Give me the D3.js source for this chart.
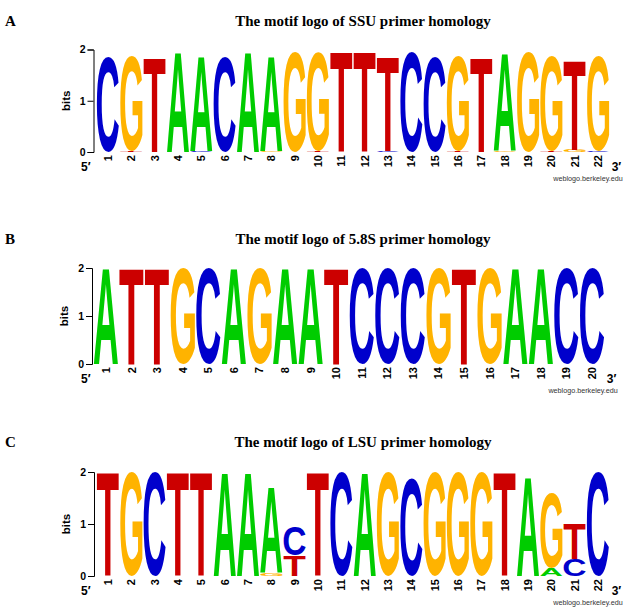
<!DOCTYPE html>
<html><head><meta charset="utf-8">
<script src="https://cdn.jsdelivr.net/npm/d3@7/dist/d3.min.js"></script>
<style>body{margin:0;background:#fff}svg{display:block}</style>
</head><body><div id="chart"></div>
<script>
// ---------- DATA ----------
const bases = ["A", "C", "G", "T"];
const baseColors = ["#00cc00", "#0000cc", "#ffb300", "#cc0000"];

// SSU primer homology (22 positions), information content (bits) per base
const ssuLabels = ["1","2","3","4","5","6","7","8","9","10","11","12","13","14","15","16","17","18","19","20","21","22"];
const ssuA = [0,0,0,1.95,1.86,0,1.95,1.86,0,0,0,0,0,0,0,0,0,1.90,0,0,0,0];
const ssuC = [1.86,0,0,0,0.015,1.86,0,0,0,0,0,0,0.015,1.95,1.86,0,0,0,0,0,0,0.015];
const ssuG = [0,1.86,0,0,0,0,0,0.015,1.95,1.92,0,0,0,0,0,1.86,0,0.015,1.95,1.86,0.04,1.86];
const ssuT = [0,0.015,1.86,0,0,0,0,0,0,0.015,1.95,1.95,1.86,0,0,0.015,1.86,0,0,0.015,1.74,0];

// 5.8S primer homology (20 positions)
const s58Labels = ["1","2","3","4","5","6","7","8","9","10","11","12","13","14","15","16","17","18","19","20"];
const s58A = [1.99,0,0,0,0,1.99,0,1.99,1.99,0,0,0,0,0,0,0,1.99,1.99,0,0];
const s58C = [0,0,0,0,1.99,0,0,0,0,0,1.99,1.99,1.99,0,0,0,0,0,1.99,1.99];
const s58G = [0,0,0,1.99,0,0,1.99,0,0,0,0,0,0,1.99,0,1.99,0,0,0,0];
const s58T = [0,1.99,1.99,0,0,0,0,0,0,1.99,0,0,0,0,1.99,0,0,0,0,0];

// LSU primer homology (22 positions)
const lsuLabels = ["1","2","3","4","5","6","7","8","9","10","11","12","13","14","15","16","17","18","19","20","21","22"];
const lsuA = [0,0,0,0,0,1.99,1.99,1.66,0,0,0,1.99,0,0,0,0,0,0,1.90,0.15,0,0];
const lsuC = [0,0,1.99,0,0,0,0,0,0.55,0,1.99,0,0,1.87,0,0,0,0,0,0,0.33,1.99];
const lsuG = [0,1.99,0,0,0,0,0,0.05,0,0,0,0,1.99,0,1.99,1.99,1.99,0,0,1.45,0,0];
const lsuT = [1.99,0,0,1.99,1.99,0,0,0,0.4,1.99,0,0,0,0,0,0,0,1.99,0,0,0.67,0];

const yTicks = [0, 1, 2];

// ---------- LAYOUT ----------
const W = 633, H = 613;
const panels = [
  {tag: "A", title: "The motif logo of SSU primer homology", labels: ssuLabels,
   series: [ssuA, ssuC, ssuG, ssuT], titleY: 26, yTop: 49.5, yBase: 152, axisX: 93.5, xL: 96.3, xR: 609.7},
  {tag: "B", title: "The motif logo of 5.8S primer homology", labels: s58Labels,
   series: [s58A, s58C, s58G, s58T], titleY: 244, yTop: 268, yBase: 364, axisX: 92, xL: 93.2, xR: 604.8},
  {tag: "C", title: "The motif logo of LSU primer homology", labels: lsuLabels,
   series: [lsuA, lsuC, lsuG, lsuT], titleY: 447, yTop: 472, yBase: 576, axisX: 94, xL: 96.3, xR: 609.7}
];

const svg = d3.select("#chart").append("svg").attr("width", W).attr("height", H);
svg.append("rect").attr("width", W).attr("height", H).attr("fill", "#fff");

// glyph ink metrics
const LFAM = '"Liberation Sans", Arial, Helvetica, sans-serif';
const ctx = document.createElement("canvas").getContext("2d");
ctx.font = "bold 100px " + LFAM;
const ink = {};
bases.forEach(b => {
  const m = ctx.measureText(b);
  ink[b] = {l: m.actualBoundingBoxLeft, r: m.actualBoundingBoxRight, a: m.actualBoundingBoxAscent, d: m.actualBoundingBoxDescent};
});

panels.forEach(p => {
  // header
  svg.append("text").attr("x", 5).attr("y", p.titleY)
    .attr("font-family", '"Liberation Serif", "Times New Roman", serif').attr("font-weight", "bold")
    .attr("font-size", 15).text(p.tag);
  svg.append("text").attr("x", 363).attr("y", p.titleY).attr("text-anchor", "middle")
    .attr("font-family", '"Liberation Serif", "Times New Roman", serif').attr("font-weight", "bold")
    .attr("font-size", 15).text(p.title);

  const x = d3.scaleBand().domain(p.labels).range([p.xL, p.xR]).paddingInner(0.05).paddingOuter(0.025);
  const y = d3.scaleLinear().domain([0, 2]).range([p.yBase, p.yTop]);

  // letters
  const g = svg.append("g");
  p.labels.forEach((lab, i) => {
    const stack = bases.map((b, k) => ({b, k, v: p.series[k][i]}))
      .filter(d => d.v > 0).sort((a, c) => a.v - c.v);
    let cum = 0;
    stack.forEach(d => {
      const yb = y(cum), yt = y(cum + d.v);
      cum += d.v;
      const m = ink[d.b];
      const x0 = x(lab), w = x.bandwidth();
      const sx = w / (m.l + m.r), sy = (yb - yt) / (m.a + m.d);
      g.append("text")
        .attr("transform", `translate(${x0},${yt}) scale(${sx},${sy}) translate(${m.l},${m.a})`)
        .attr("font-family", LFAM).attr("font-weight", "bold").attr("font-size", 100)
        .attr("fill", baseColors[d.k]).text(d.b);
    });
  });

  // y axis
  const ya = svg.append("g").attr("transform", `translate(${p.axisX},0)`)
    .call(d3.axisLeft(y).tickValues(yTicks).tickSize(6).tickSizeOuter(6).tickPadding(2).tickFormat(d3.format("d")));
  ya.selectAll("path,line").attr("stroke", "#000").attr("stroke-width", 1);
  ya.selectAll("text").attr("font-family", LFAM).attr("font-weight", "bold").attr("font-size", 10.5).attr("fill", "#000");

  svg.append("text")
    .attr("transform", `translate(${p.axisX - 24},${(p.yTop + p.yBase) / 2}) rotate(-90)`)
    .attr("text-anchor", "middle").attr("font-family", LFAM).attr("font-weight", "bold")
    .attr("font-size", 11.5).text("bits");

  // x axis (position numbers)
  const xa = svg.append("g").attr("transform", `translate(0,${p.yBase})`)
    .call(d3.axisBottom(x).tickSize(0).tickPadding(0));
  xa.select(".domain").remove();
  xa.selectAll("text").attr("transform", "rotate(-90)").attr("x", -3).attr("y", 0)
    .attr("dy", "0.36em").attr("text-anchor", "end")
    .attr("font-family", LFAM).attr("font-weight", "bold").attr("font-size", 11).attr("fill", "#000");

  svg.append("text").attr("x", 81).attr("y", p.yBase + 19)
    .attr("font-family", LFAM).attr("font-weight", "bold").attr("font-size", 12).text("5\u2032");
  svg.append("text").attr("x", p.xR + 2).attr("y", p.yBase + 19)
    .attr("font-family", LFAM).attr("font-weight", "bold").attr("font-size", 12).text("3\u2032");
  svg.append("text").attr("x", p.xR + 13).attr("y", p.yBase + 29).attr("text-anchor", "end")
    .attr("font-family", LFAM).attr("font-size", 7.2).attr("fill", "#333").text("weblogo.berkeley.edu");
});
</script>
</body></html>
